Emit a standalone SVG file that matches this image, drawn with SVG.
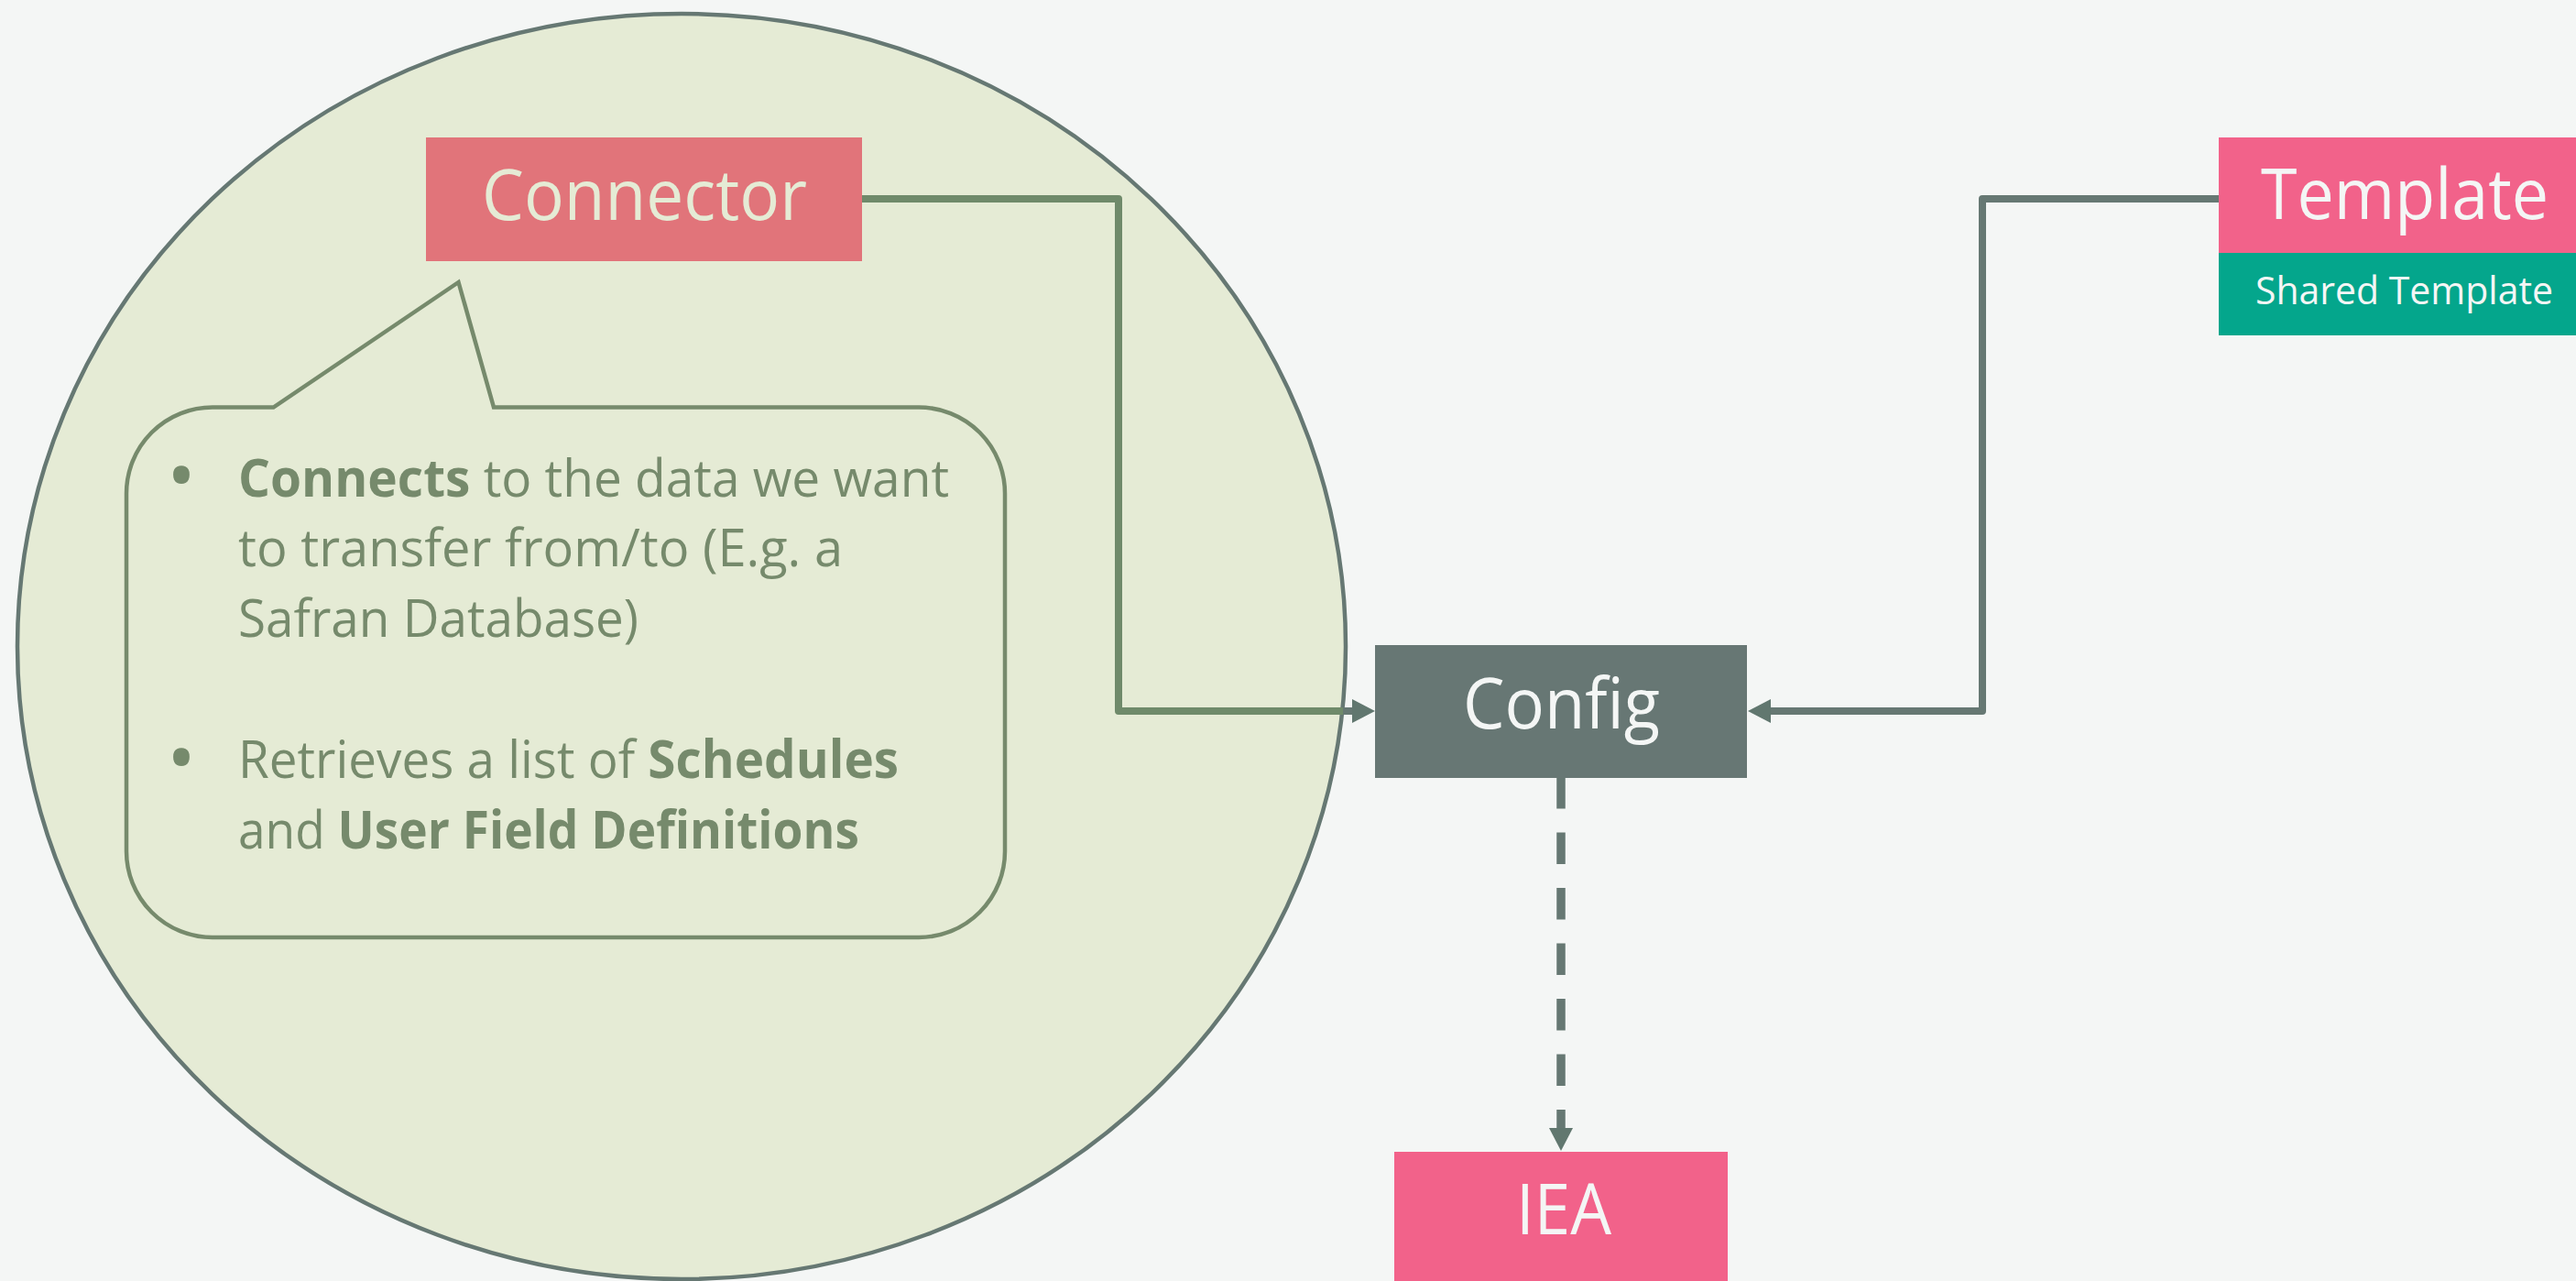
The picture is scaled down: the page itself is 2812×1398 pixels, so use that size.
<svg xmlns="http://www.w3.org/2000/svg" width="2812" height="1398" viewBox="0 0 2812 1398">
<style>
.lbl{font-family:"Open Sans","Liberation Sans",sans-serif;}
.big{font-size:77px;}
.bub{font-family:"Open Sans","Liberation Sans",sans-serif;font-size:57px;fill:#768a6c;}
.dot{font-family:"Open Sans","Liberation Sans",sans-serif;font-size:85px;fill:#768a6c;}
.b{font-weight:bold;}
.lineG{fill:none;stroke:#6f8a6a;stroke-width:8;stroke-linejoin:round;stroke-linecap:butt;}
.lineT{fill:none;stroke:#667873;stroke-width:8;stroke-linejoin:round;}
</style>
<defs>
<marker id="arr" viewBox="0 -13 25 26" refX="0" refY="0" markerWidth="25" markerHeight="26" markerUnits="userSpaceOnUse" orient="auto">
<path d="M0,-13 L25,0 L0,13 z" fill="#61776f"/>
</marker>
</defs>
<rect x="0" y="0" width="2812" height="1398" fill="#f4f6f5"/>
<g id="scope">
<ellipse cx="744" cy="705.5" rx="725" ry="690.5" fill="#e5ebd5" stroke="#667873" stroke-width="4.5"/>
</g>
<g id="connectors">
<path class="lineG" d="M941,217 H1221 V776 H1467"/>
<path class="lineT" d="M1466,776 H1476" marker-end="url(#arr)"/>
<path class="lineT" d="M2422,217 H2164 V776 H1933" marker-end="url(#arr)"/>
<path d="M1704,849 V1231" fill="none" stroke="#667873" stroke-width="9.5" stroke-dasharray="34.5 26" stroke-dashoffset="1" marker-end="url(#arr)"/>
</g>
<g id="connector">
<rect x="465" y="150" width="476" height="135" fill="#e1747a"/>
<text class="lbl big" x="526" y="240" fill="#e5ebd5" textLength="355" lengthAdjust="spacingAndGlyphs">Connector</text>
</g>
<g id="callout">
<path d="M232,444.5 H298.5 L500.5,308 L539,444.5 H1003 A94,94 0 0 1 1097,538.5 V929 A94,94 0 0 1 1003,1023 H232 A94,94 0 0 1 138,929 V538.5 A94,94 0 0 1 232,444.5 Z" fill="none" stroke="#768a6c" stroke-width="4.5" stroke-linejoin="miter"/>
<text class="dot" x="198" y="549" text-anchor="middle">•</text>
<text class="bub" x="260" y="542" textLength="776" lengthAdjust="spacingAndGlyphs"><tspan class="b">Connects</tspan> to the data we want</text>
<text class="bub" x="260" y="618" textLength="660" lengthAdjust="spacingAndGlyphs">to transfer from/to (E.g. a</text>
<text class="bub" x="260" y="695" textLength="437" lengthAdjust="spacingAndGlyphs">Safran Database)</text>
<text class="dot" x="198" y="857" text-anchor="middle">•</text>
<text class="bub" x="260" y="849" textLength="721" lengthAdjust="spacingAndGlyphs">Retrieves a list of <tspan class="b">Schedules</tspan></text>
<text class="bub" x="260" y="926" textLength="678" lengthAdjust="spacingAndGlyphs">and <tspan class="b">User Field Definitions</tspan></text>
</g>
<g id="config">
<rect x="1501" y="704" width="406" height="145" fill="#677774"/>
<text class="lbl big" x="1597" y="795" fill="#f4f6f5" textLength="215" lengthAdjust="spacingAndGlyphs">Config</text>
</g>
<g id="template">
<rect x="2422" y="150" width="390" height="126" fill="#f2628a"/>
<rect x="2422" y="276" width="390" height="90" fill="#04a68c"/>
<text class="lbl big" x="2468" y="239" fill="#f4f6f5" textLength="314" lengthAdjust="spacingAndGlyphs">Template</text>
<text class="lbl" x="2462" y="332" font-size="42" fill="#f4f6f5" textLength="325" lengthAdjust="spacingAndGlyphs">Shared Template</text>
</g>
<g id="iea">
<rect x="1522" y="1257" width="364" height="141" fill="#f2628a"/>
<text class="lbl big" x="1655" y="1347" fill="#f4f6f5" textLength="104" lengthAdjust="spacingAndGlyphs">IEA</text>
</g>
</svg>
